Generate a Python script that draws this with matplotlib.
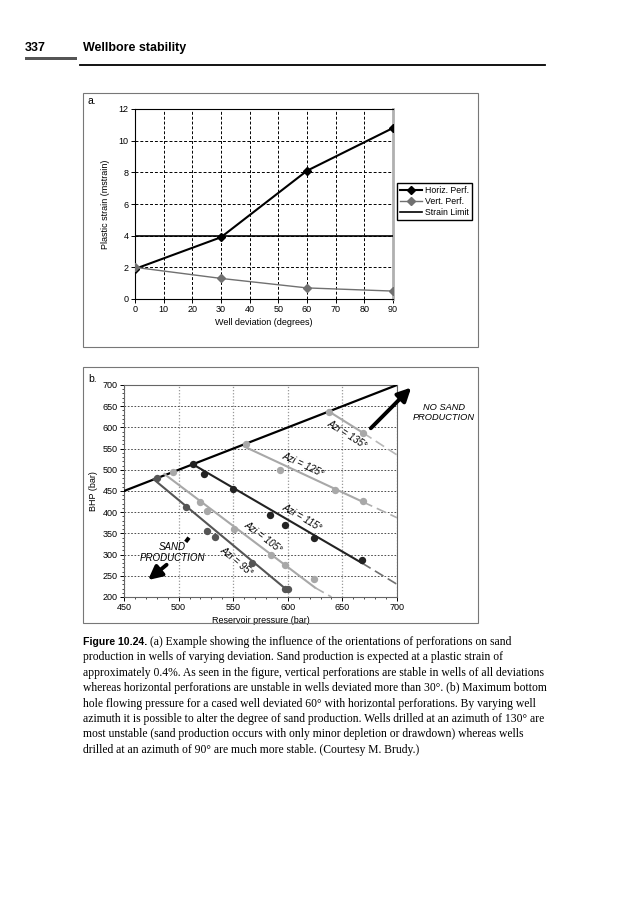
import numpy as np
import matplotlib
matplotlib.use("Agg")
import matplotlib.pyplot as plt
from matplotlib.patches import Rectangle
from matplotlib.lines import Line2D
from matplotlib.ticker import MultipleLocator

plt.rcParams["font.family"] = ["Liberation Sans", "DejaVu Sans"]

# --- chart a data ---
deviation = [0, 30, 60, 90]
horiz_perf = [1.9, 3.9, 8.1, 10.8]
vert_perf = [2.0, 1.3, 0.7, 0.5]
strain_limit = 4.0

# --- chart b data ---
limit_x = [450, 700]
limit_y = [450, 700]

azi_names = ["95", "105", "115", "125", "135"]
azi_colors = ["#555555", "#a8a8a8", "#222222", "#a8a8a8", "#a8a8a8"]
dash_colors = ["#555555", "#b0b0b0", "#707070", "#b0b0b0", "#b8b8b8"]
# solid trend line start / end, dashed extension end
azi_solid_x = [[477, 600], [487, 625], [513, 668], [560, 669], [638, 669]]
azi_solid_y = [[478, 215], [490, 222], [513, 280], [555, 424], [637, 587]]
azi_dash_x = [600, 640, 700, 700, 700]
azi_dash_y = [215, 200, 230, 387, 535]
# measured points
azi_pts_x = [
    [480, 507, 526, 533, 567, 597, 600],
    [495, 520, 526, 551, 585, 597, 624],
    [513, 523, 550, 584, 597, 624, 668],
    [562, 593, 643, 669],
    [638, 669],
]
azi_pts_y = [
    [480, 412, 356, 342, 281, 219, 218],
    [495, 425, 402, 361, 300, 275, 243],
    [513, 489, 454, 394, 370, 340, 287],
    [562, 499, 453, 426],
    [637, 587],
]
# label centres for each azimuth
azi_label_x = [553, 577, 613, 614, 654]
azi_label_y = [284, 341, 388, 511, 584]

caption_lines = [
    "production in wells of varying deviation. Sand production is expected at a plastic strain of",
    "approximately 0.4%. As seen in the figure, vertical perforations are stable in wells of all deviations",
    "whereas horizontal perforations are unstable in wells deviated more than 30°. (b) Maximum bottom",
    "hole flowing pressure for a cased well deviated 60° with horizontal perforations. By varying well",
    "azimuth it is possible to alter the degree of sand production. Wells drilled at an azimuth of 130° are",
    "most unstable (sand production occurs with only minor depletion or drawdown) whereas wells",
    "drilled at an azimuth of 90° are much more stable. (Courtesy M. Brudy.)",
]

W, H = 633, 900


def fx(px):
    return px / W


def fy(py):
    return 1 - py / H


fig = plt.figure(figsize=(6.33, 9), dpi=100)

# page header
fig.text(fx(25), fy(51), "337", fontsize=9, fontweight="bold", va="baseline")
fig.text(fx(83), fy(51), "Wellbore stability", fontsize=9, fontweight="bold", va="baseline")
fig.add_artist(Rectangle((fx(25), fy(60)), fx(52), 3 / H, color="#555555", lw=0))
fig.add_artist(Line2D([fx(80), fx(545)], [fy(65), fy(65)], color="black", lw=1.3))

# frames around the two charts
for top, bottom in [(93, 347), (367, 623)]:
    fig.add_artist(Rectangle((fx(83), fy(bottom)), fx(478 - 83), (bottom - top) / H,
                             fill=False, edgecolor="#777777", lw=0.8))

# ---------------- chart a ----------------
ax1 = fig.add_axes([fx(135), fy(299), fx(258), 190 / H])
ax1.plot(deviation, horiz_perf, color="black", lw=1.5, marker="D", ms=4,
         label="Horiz. Perf.", zorder=4)
ax1.plot(deviation, vert_perf, color="#707070", lw=1.0, marker="D", ms=4,
         label="Vert. Perf.", zorder=4)
ax1.axhline(strain_limit, color="black", lw=1.2, label="Strain Limit", zorder=3)
ax1.set_xlim(0, 90)
ax1.set_ylim(0, 12)
ax1.xaxis.set_major_locator(MultipleLocator(10))
ax1.yaxis.set_major_locator(MultipleLocator(2))
ax1.grid(True, color="black", ls=(0, (3, 2)), lw=0.7)
ax1.tick_params(labelsize=6.5, length=3, width=0.7, pad=1.5)
ax1.set_xlabel("Well deviation (degrees)", fontsize=6.5, labelpad=3)
ax1.set_ylabel("Plastic strain (mstrain)", fontsize=6.5, labelpad=6)
for s in ["left", "bottom", "top"]:
    ax1.spines[s].set_linewidth(0.8)
ax1.spines["right"].set_color("#b0b0b0")
ax1.spines["right"].set_linewidth(2)
fig.legend(handles=ax1.get_lines()[:3], loc="upper left",
           bbox_to_anchor=(fx(397), fy(183)), fontsize=6.3, frameon=True,
           fancybox=False, edgecolor="black", framealpha=1, borderpad=0.3,
           labelspacing=0.25, handlelength=2.6, handletextpad=0.3,
           borderaxespad=0)
fig.text(fx(87), fy(104), "a.", fontsize=7.5)

# ---------------- chart b ----------------
ax2 = fig.add_axes([fx(124), fy(597), fx(273), 212 / H])
ax2.set_xlim(450, 700)
ax2.set_ylim(200, 700)
ax2.xaxis.set_major_locator(MultipleLocator(50))
ax2.yaxis.set_major_locator(MultipleLocator(50))
ax2.xaxis.set_minor_locator(MultipleLocator(10))
ax2.yaxis.set_minor_locator(MultipleLocator(10))
ax2.grid(True, axis="y", color="#333333", ls=(0, (2, 2)), lw=0.6)
ax2.grid(True, axis="x", color="#999999", ls=(0, (1, 1.5)), lw=0.9)
ax2.tick_params(labelsize=6.5, length=3, width=0.7, pad=1.5)
ax2.tick_params(which="minor", length=1.5, width=0.5)
ax2.set_xlabel("Reservoir pressure (bar)", fontsize=6.5, labelpad=3)
ax2.set_ylabel("BHP (bar)", fontsize=6.5, labelpad=3)
for s in ax2.spines.values():
    s.set_color("#666666")
    s.set_linewidth(0.8)

ax2.plot(limit_x, limit_y, color="black", lw=1.6, zorder=3)
for i in range(len(azi_names)):
    c = azi_colors[i]
    ax2.plot(azi_solid_x[i], azi_solid_y[i], color=c, lw=1.5, zorder=3)
    ax2.plot([azi_solid_x[i][1], azi_dash_x[i]], [azi_solid_y[i][1], azi_dash_y[i]],
             color=dash_colors[i], lw=1.2, ls=(0, (6, 3)), zorder=3, clip_on=True)
    ax2.scatter(azi_pts_x[i], azi_pts_y[i], s=28, color=c, zorder=4, lw=0)
    dx = azi_solid_x[i][1] - azi_solid_x[i][0]
    dy = azi_solid_y[i][1] - azi_solid_y[i][0]
    ang = np.degrees(np.arctan2(dy, dx))
    ax2.text(azi_label_x[i], azi_label_y[i], "Azi = " + azi_names[i] + "°",
             fontsize=7, style="italic",
             rotation=ang, transform_rotates_text=True,
             rotation_mode="anchor", ha="center", va="center", zorder=5)

ax2.annotate("", xy=(713, 694), xytext=(676, 598), xycoords="data",
             annotation_clip=False,
             arrowprops=dict(arrowstyle="-|>,head_length=0.8,head_width=0.4",
                             lw=2.8, color="black", shrinkA=0, shrinkB=0))
ax2.annotate("", xy=(472, 240), xytext=(489, 276), xycoords="data",
             arrowprops=dict(arrowstyle="-|>,head_length=0.8,head_width=0.4",
                             lw=2.8, color="black", shrinkA=0, shrinkB=0))
ax2.plot([509.5, 506.5], [340, 330], color="black", lw=2.8, solid_capstyle="butt")
ax2.text(494.5, 305, "SAND\nPRODUCTION", fontsize=7, style="italic",
         ha="center", va="center", linespacing=1.05)
fig.text(fx(444), fy(412.5), "NO SAND\nPRODUCTION", fontsize=6.7, style="italic",
         ha="center", va="center", linespacing=1.05)
fig.text(fx(88), fy(382), "b.", fontsize=7.5)

# ---------------- caption ----------------
serif = ["Liberation Serif", "DejaVu Serif"]
fig.text(fx(83), fy(645), "Figure 10.24.", fontsize=7.6, fontweight="bold",
         va="baseline")
fig.text(fx(150), fy(645),
         "(a) Example showing the influence of the orientations of perforations on sand",
         fontsize=8.4, family=serif, va="baseline")
for k, line in enumerate(caption_lines):
    fig.text(fx(83), fy(660.4 + 15.4 * k), line, fontsize=8.4, family=serif,
             va="baseline")

fig.savefig("out.png", dpi=100)
